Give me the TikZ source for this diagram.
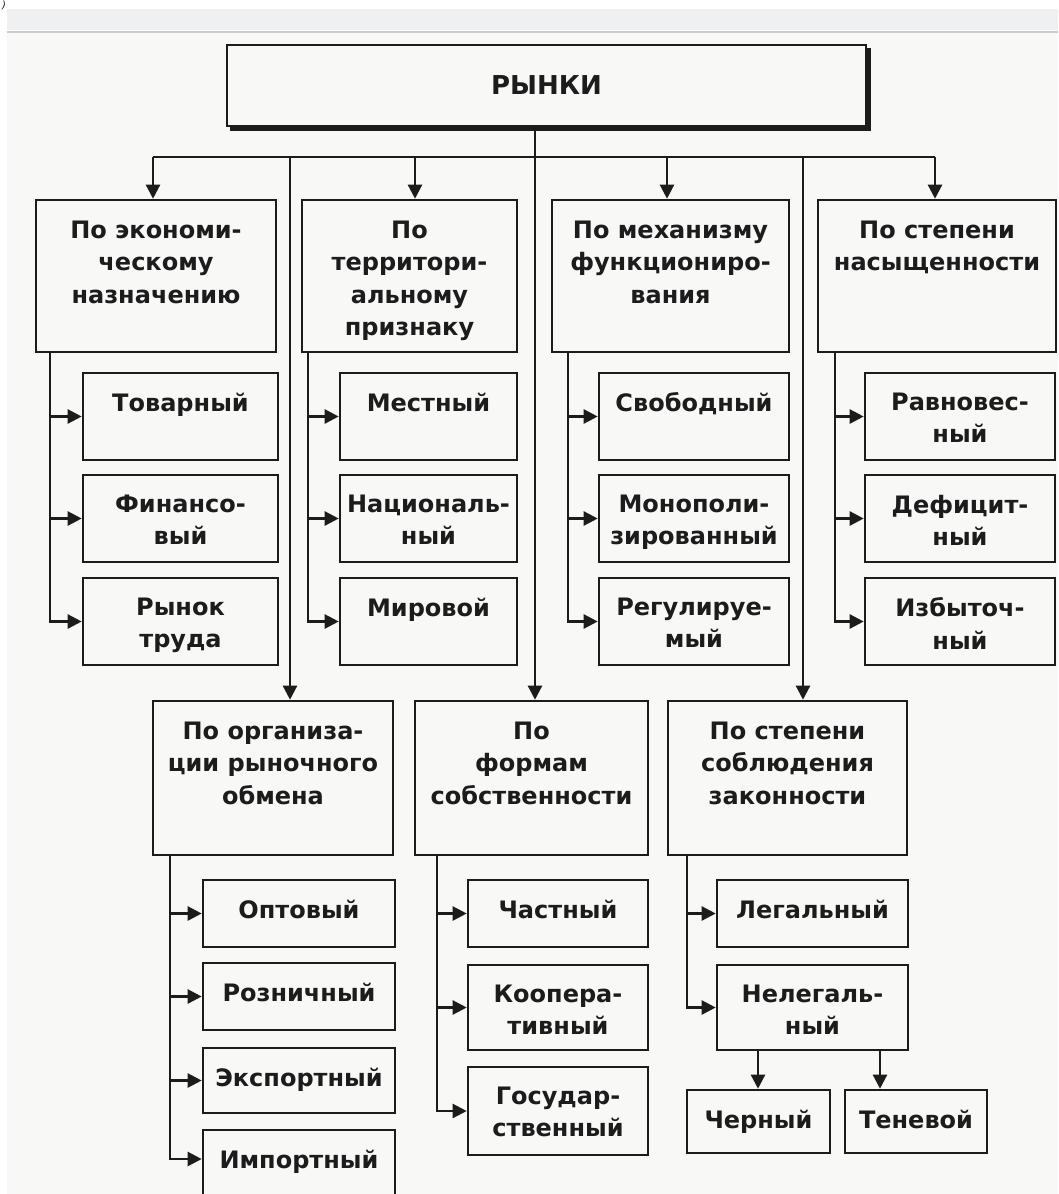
\documentclass[tikz,border=0pt]{standalone}
\usepackage{fontspec}
\setmainfont{DejaVu Sans}
\usetikzlibrary{arrows.meta,calc}
\definecolor{ink}{HTML}{1C1C1C}
\definecolor{bg}{HTML}{F8F9F7}
\definecolor{band}{HTML}{EEF0F2}
\tikzset{
  box/.style={draw=ink, line width=2.6pt, inner sep=0pt},
  txt/.style={font=\bfseries\fontsize{24}{32.5}\selectfont, text=ink, align=center, inner sep=0pt, anchor=north},
  ln/.style={draw=ink, line width=2.4pt},
  arr/.style={ln, -{Triangle[length=14pt,width=14pt]}},
}
% name, x1, y1, x2, y2, text offset, text
\newcommand{\mybox}[7]{%
  \node[box, minimum width={#4-#2}, minimum height={#5-#3}] (#1) at ({(#2+#4)/2},{(#3+#5)/2}) {};
  \node[txt] (#1t) at ([yshift=-#6pt]#1.north) {#7};
}
\begin{document}
\begin{tikzpicture}[x=1pt,y=-1pt]
\clip (0,0) rectangle (1058,1194);
\fill[white] (0,0) rectangle (1058,1194);
\fill[band] (7,9) rectangle (1058,30);
\draw[gray!40, line width=1.5pt] (7,32) -- (1058,32);
\fill[bg] (7,33) rectangle (1058,1194);
\node[font=\itshape\fontsize{10}{10}\selectfont, text=ink, inner sep=0pt, anchor=north west] (paren) at (2,1) {)};

% top box
\node[box, minimum width=639, minimum height=81] (top) at (546.5,85.5) {};
\draw[ink, line width=5pt] ([xshift=4pt,yshift=-1.5pt]top.south west) -- ([xshift=1.5pt,yshift=-1.5pt]top.south east) -- ([xshift=1.5pt,yshift=-4pt]top.north east);
\node[font=\bfseries\fontsize{26}{30}\selectfont, text=ink, inner sep=0pt] (topt) at (top) {РЫНКИ};

% first-level categories
\mybox{c1}{36}{200}{276}{352}{22}{По экономи-\\ческому\\назначению}
\mybox{c2}{302}{200}{517}{352}{22}{По\\территори-\\альному\\признаку}
\mybox{c3}{552}{200}{789}{352}{22}{По механизму\\функциониро-\\вания}
\mybox{c4}{818}{200}{1056}{352}{22}{По степени\\насыщенности}

\mybox{s11}{83}{373}{278}{460}{21}{Товарный}
\mybox{s12}{83}{475}{278}{562}{21}{Финансо-\\вый}
\mybox{s13}{83}{578}{278}{665}{21}{Рынок\\труда}
\mybox{s21}{340}{373}{517}{460}{21}{Местный}
\mybox{s22}{340}{475}{517}{562}{21}{Националь-\\ный}
\mybox{s23}{340}{578}{517}{665}{21}{Мировой}
\mybox{s31}{599}{373}{789}{460}{21}{Свободный}
\mybox{s32}{599}{475}{789}{562}{21}{Монополи-\\зированный}
\mybox{s33}{599}{578}{789}{665}{21}{Регулируе-\\мый}
\mybox{s41}{865}{373}{1055}{460}{21}{Равновес-\\ный}
\mybox{s42}{865}{475}{1055}{562}{21}{Дефицит-\\ный}
\mybox{s43}{865}{578}{1055}{665}{21}{Избыточ-\\ный}

% second-level categories
\mybox{o}{153}{701}{393}{855}{22}{По организа-\\ции рыночного\\обмена}
\mybox{f}{415}{701}{648}{855}{22}{По\\формам\\собственности}
\mybox{z}{668}{701}{907}{855}{22}{По степени\\соблюдения\\законности}

\mybox{o1}{203}{880}{395}{947}{21}{Оптовый}
\mybox{o2}{203}{963}{395}{1030}{21}{Розничный}
\mybox{o3}{203}{1048}{395}{1113}{21}{Экспортный}
\mybox{o4}{203}{1130}{395}{1198}{21}{Импортный}
\mybox{f1}{468}{880}{648}{947}{21}{Частный}
\mybox{f2}{468}{965}{648}{1050}{21}{Коопера-\\тивный}
\mybox{f3}{468}{1067}{648}{1155}{21}{Государ-\\ственный}
\mybox{z1}{717}{880}{908}{947}{21}{Легальный}
\mybox{z2}{717}{965}{908}{1050}{21}{Нелегаль-\\ный}
\mybox{z3}{687}{1090}{830}{1153}{21}{Черный}
\mybox{z4}{845}{1090}{987}{1153}{21}{Теневой}

% main connectors
\coordinate (stem) at (535,127);
\coordinate (d1) at (153,157);
\coordinate (d2) at (415,157);
\coordinate (d3) at (667,157);
\coordinate (d4) at (935,157);
\coordinate (v1) at (290,157);
\coordinate (v2) at (803,157);
\draw[ln] (d1) -- (d4);
\draw[arr] (stem) -- (stem |- f.north);
\draw[arr] (d1) -- (d1 |- c1.north);
\draw[arr] (d2) -- (d2 |- c2.north);
\draw[arr] (d3) -- (d3 |- c3.north);
\draw[arr] (d4) -- (d4 |- c4.north);
\draw[arr] (v1) -- (v1 |- o.north);
\draw[arr] (v2) -- (v2 |- z.north);

% branch connectors
\coordinate (k1) at (50,352);
\coordinate (k2) at (308,352);
\coordinate (k3) at (568,352);
\coordinate (k4) at (835,352);
\coordinate (ko) at (170,855);
\coordinate (kf) at (437,855);
\coordinate (kz) at (687,855);
\foreach \s in {s11,s12,s13} \draw[arr] (k1) |- (\s.west);
\foreach \s in {s21,s22,s23} \draw[arr] (k2) |- (\s.west);
\foreach \s in {s31,s32,s33} \draw[arr] (k3) |- (\s.west);
\foreach \s in {s41,s42,s43} \draw[arr] (k4) |- (\s.west);
\foreach \s in {o1,o2,o3} \draw[arr] (ko) |- (\s.west);
\draw[arr] (ko) |- ([yshift=5pt]o4.west);
\foreach \s in {f1,f2,f3} \draw[arr] (kf) |- (\s.west);
\foreach \s in {z1,z2} \draw[arr] (kz) |- (\s.west);
\coordinate (n1) at (758,1050);
\coordinate (n2) at (880,1050);
\draw[arr] (n1) -- (n1 |- z3.north);
\draw[arr] (n2) -- (n2 |- z4.north);
\end{tikzpicture}
\end{document}
